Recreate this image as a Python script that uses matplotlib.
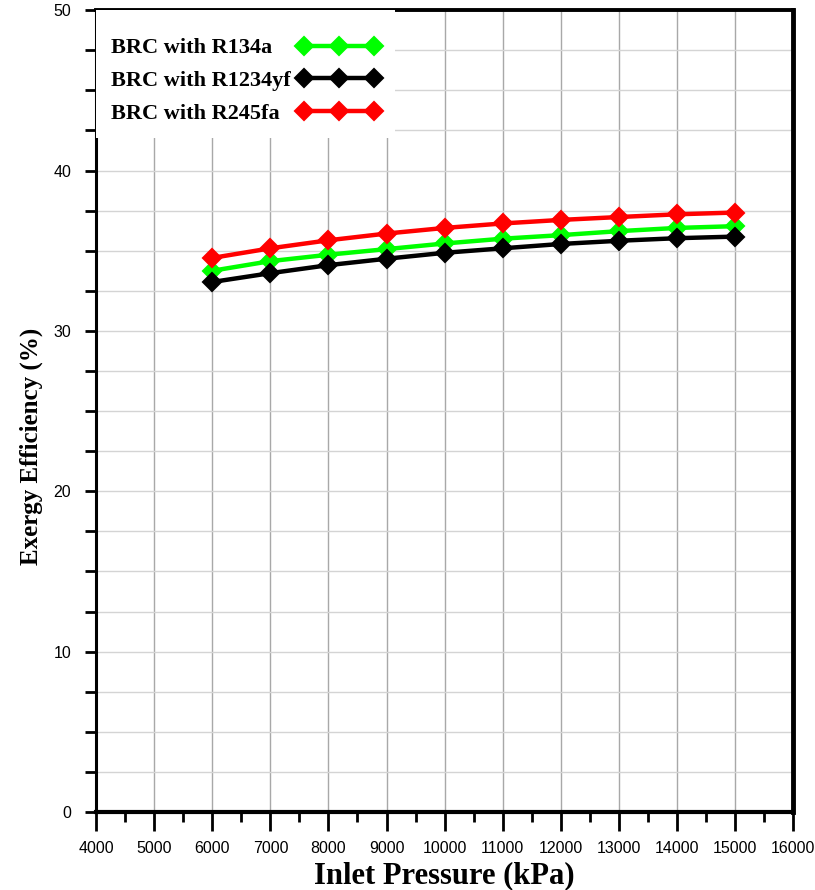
import numpy as np
import matplotlib
matplotlib.use("Agg")
import matplotlib.pyplot as plt
from matplotlib.ticker import MultipleLocator

# Inlet pressure (kPa)
pressure = [6000, 7000, 8000, 9000, 10000, 11000, 12000, 13000, 14000, 15000]

# Exergy efficiency (%)
eff_r134a = [33.75, 34.35, 34.75, 35.1, 35.45, 35.75, 35.97, 36.22, 36.42, 36.53]
eff_r1234yf = [33.05, 33.6, 34.1, 34.5, 34.87, 35.15, 35.42, 35.62, 35.78, 35.88]
eff_r245fa = [34.55, 35.15, 35.65, 36.07, 36.42, 36.7, 36.92, 37.1, 37.27, 37.38]

labels = ["BRC with R134a", "BRC with R1234yf", "BRC with R245fa"]
colors = ["#00ff00", "#000000", "#ff0000"]

DPI = 100
fig = plt.figure(figsize=(8.15, 8.9), dpi=DPI)
ax = fig.add_axes([0.118, 0.0876, 0.855, 0.901])

for y, lab, c in zip([eff_r134a, eff_r1234yf, eff_r245fa], labels, colors):
    ax.plot(pressure, y, color=c, lw=3.2, marker="D", ms=9, mfc=c, mec=c,
            mew=1.5, label=lab, zorder=3)

ax.set_xlim(4000, 16000)
ax.set_ylim(0, 50)
ax.xaxis.set_major_locator(MultipleLocator(1000))
ax.xaxis.set_minor_locator(MultipleLocator(500))
ax.yaxis.set_major_locator(MultipleLocator(10))
ax.yaxis.set_minor_locator(MultipleLocator(2.5))

# vertical grid darker, horizontal grid lighter
ax.grid(which="major", axis="x", color="#a8a8a8", lw=1.0)
ax.grid(which="both", axis="y", color="#d4d4d4", lw=1.0)
ax.set_axisbelow(True)

ax.spines["left"].set_linewidth(2.2)
ax.spines["top"].set_linewidth(2.8)
ax.spines["bottom"].set_linewidth(3)
ax.spines["right"].set_linewidth(3.5)

ax.tick_params(axis="x", which="major", length=14, width=2, direction="out",
               labelsize=11.5, pad=7)
ax.tick_params(axis="x", which="minor", length=7, width=2, direction="out")
ax.tick_params(axis="y", which="both", length=8, width=2, direction="out",
               labelsize=11.5, pad=10)
for t in ax.get_xticklabels() + ax.get_yticklabels():
    t.set_family("Liberation Sans")

ax.set_xlabel("Inlet Pressure (kPa)", family="Liberation Serif",
              fontweight="bold", fontsize=22)
ax.set_ylabel("Exergy Efficiency (%)", family="Liberation Serif",
              fontweight="bold", fontsize=18)
ax.xaxis.set_label_coords(0.5, -0.061)
ax.yaxis.set_label_coords(-0.076, 0.456)

fs = 16
pad_text = 0.3
# a blank tiny title pushes the rows down while the white box stays at the top
leg = ax.legend(loc="upper left", numpoints=3, markerfirst=False,
                prop={"family": "Liberation Serif", "weight": "bold", "size": fs},
                title=" ", title_fontsize=1,
                frameon=True, fancybox=False, framealpha=1, facecolor="white",
                handlelength=3.75, borderaxespad=0.0, borderpad=0.65,
                labelspacing=0.55, handletextpad=pad_text)
leg.get_frame().set_linewidth(0)

# left-align the legend texts, keeping the markers in one column
fig.canvas.draw()
texts = leg.get_texts()
widths = [t.get_window_extent().width * 72.0 / DPI for t in texts]
wmax = max(widths)
for col in leg._legend_handle_box.get_children():
    for item, w in zip(col.get_children(), widths):
        item.sep = pad_text * fs + (wmax - w)

fig.savefig("out.png", dpi=DPI)
